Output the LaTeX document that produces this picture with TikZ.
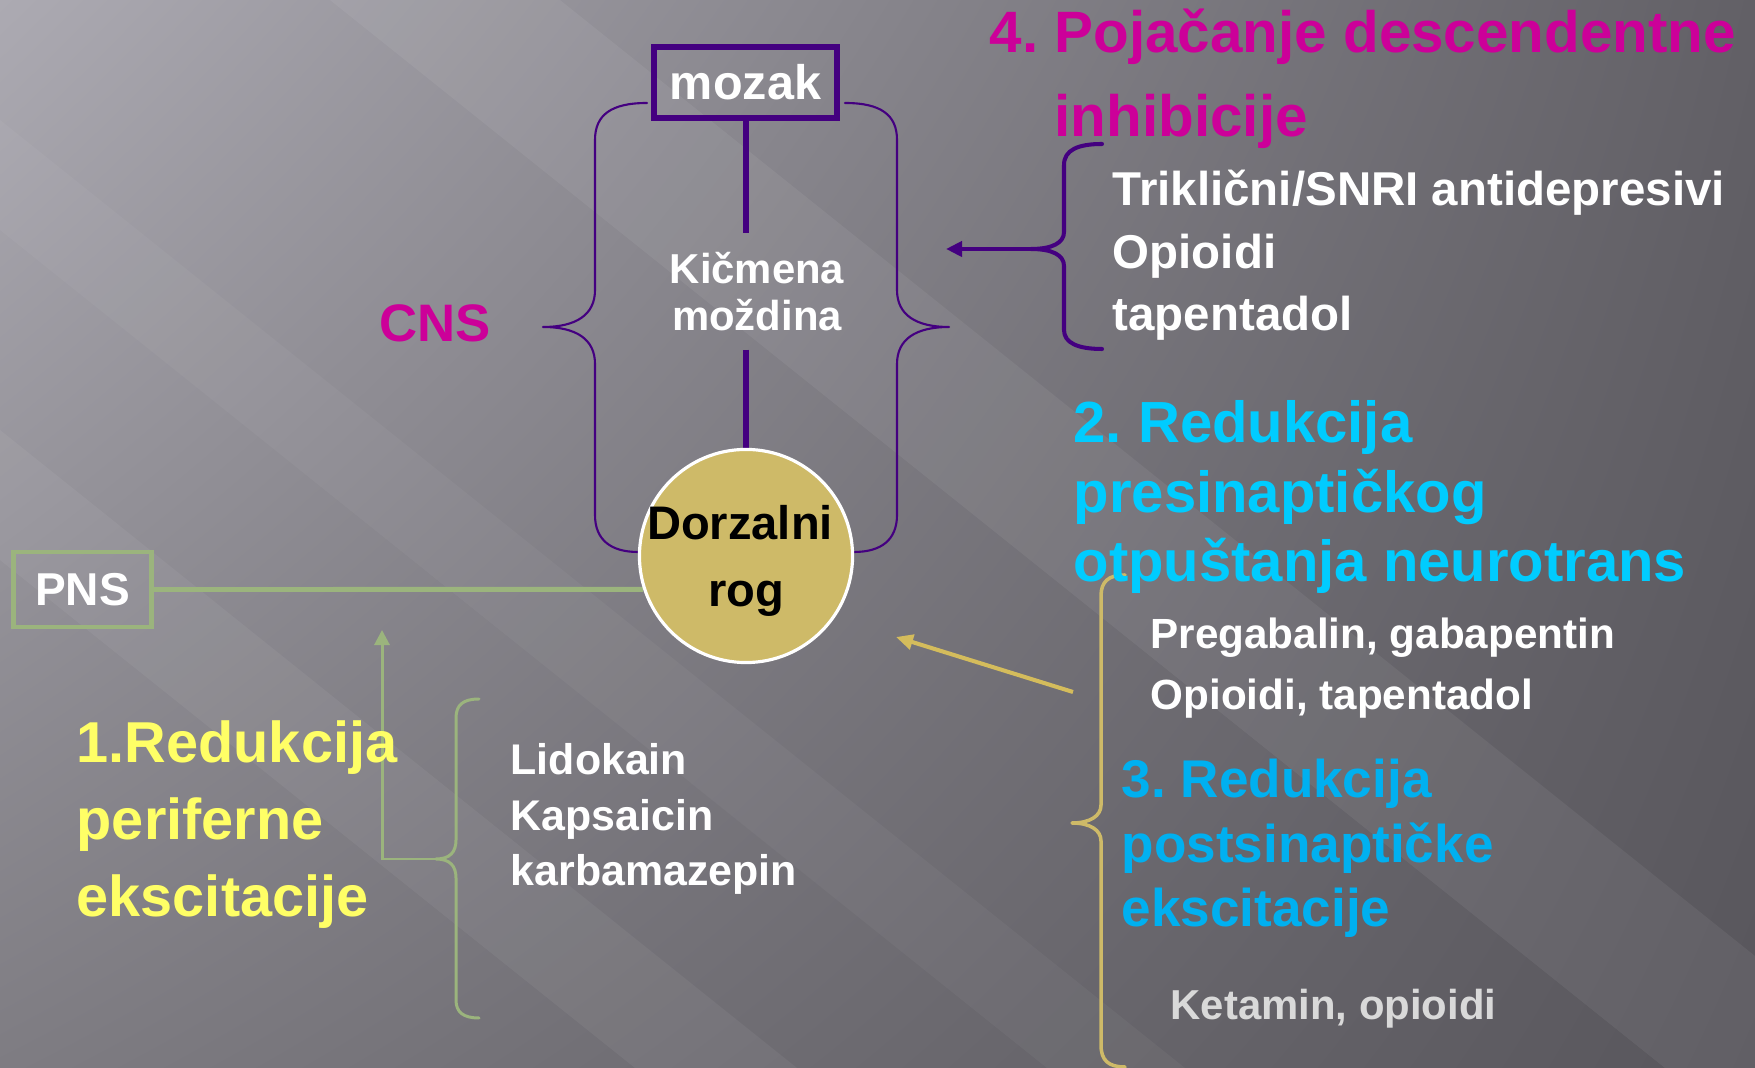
\documentclass[tikz,border=0pt]{standalone}
\usepackage{fontspec}
\setmainfont{Liberation Sans}
\usetikzlibrary{positioning, calc, arrows.meta, shadings}
\frenchspacing

\definecolor{cnspurple}{RGB}{68,0,128}
\definecolor{pnsgreen}{RGB}{155,180,125}
\definecolor{hornfill}{RGB}{206,186,104}
\definecolor{arrowtan}{RGB}{212,188,92}
\definecolor{headmagenta}{RGB}{204,0,153}
\definecolor{headcyan}{RGB}{0,204,255}
\definecolor{headblue}{RGB}{0,176,240}
\definecolor{headyellow}{RGB}{255,255,102}
\definecolor{druggray}{RGB}{217,217,217}
\definecolor{bgul}{RGB}{172,170,178}
\definecolor{bgur}{RGB}{98,96,102}
\definecolor{bgll}{RGB}{126,124,130}
\definecolor{bglr}{RGB}{88,86,92}

\newcommand{\slidefont}[2]{\fontsize{#1}{#2}\selectfont\bfseries}

\pgfdeclarelayer{background}
\pgfdeclarelayer{connectors}
\pgfsetlayers{background,connectors,main}

\tikzstyle{Curly} = [line cap=round, line join=round]

\begin{document}
\begin{tikzpicture}[
x=0.01cm, y=-0.01cm,
textlabel/.style={
    inner sep=0pt,
    text=white,
    align=left,
    anchor=base west
    },
framebox/.style={
    rectangle,
    draw,
    inner sep=0pt,
    text=white
    },
cord/.style={line width=1.7pt, cnspurple},
greenarrow/.style={line width=0.85pt, pnsgreen, -{Triangle[length=0.15cm, width=0.15cm]}},
tanarrow/.style={line width=1.15pt, arrowtan, -{Triangle[length=0.17cm, width=0.15cm]}},
purplearrow/.style={line width=1.15pt, cnspurple, -{Triangle[length=0.16cm, width=0.15cm]}}
]

\useasboundingbox (0,0) rectangle (1755,1068);

% centre: mozak, spinal cord, dorsal horn
\node[framebox, draw=cnspurple, line width=1.7pt, minimum width=1.83cm, minimum height=0.71cm, font=\slidefont{13.8}{16}] (mozak) at (745.5,82.5) {mozak};
\node[align=center, text=white, inner xsep=0pt, inner ysep=0.18cm, font=\slidefont{11.9}{13.4}] (spine) at (757,291.5) {Kičmena\\moždina};
\node[circle, draw=white, line width=0.9pt, fill=hornfill, minimum size=2.13cm, inner sep=-6pt, align=center, text depth=0pt, font=\slidefont{13.4}{19.1}] (dorsal) at (746,556) {Dorzalni\hspace*{0.12cm}\\rog};
\node[framebox, draw=pnsgreen, line width=1.4pt, minimum width=1.37cm, minimum height=0.75cm, font=\slidefont{13.1}{15}] (pns) at (82.5,589.5) {PNS};

% labels (base = last line)
\node[textlabel, text=headmagenta, font=\slidefont{15}{18}] (cns) at (379,342) {CNS};
\node[textlabel, text=headmagenta, font=\slidefont{16.6}{23.9}] (inhhead) at (989,137) {4. Pojačanje descendentne\\\hspace*{0.65cm}inhibicije};
\node[textlabel, font=\slidefont{13.5}{17.9}] (inhdrugs) at (1112,331) {Triklični/SNRI antidepresivi\\Opioidi\\tapentadol};
\node[textlabel, text=headcyan, font=\slidefont{16.5}{19.9}] (prehead) at (1073,582) {2. Redukcija\\presinaptičkog\\otpuštanja neurotrans};
\node[textlabel, font=\slidefont{12}{17.4}] (predrugs) at (1150,710) {Pregabalin, gabapentin\\Opioidi, tapentadol};
\node[textlabel, text=headblue, font=\slidefont{15.1}{18.35}] (posthead) at (1121,927) {3. Redukcija\\postsinaptičke\\ekscitacije};
\node[textlabel, text=druggray, font=\slidefont{11.9}{14}] (postdrugs) at (1170,1020) {Ketamin, opioidi};
\node[textlabel, text=headyellow, font=\slidefont{16.4}{21.9}] (perifhead) at (76,917) {1.Redukcija\\periferne\\ekscitacije};
\node[textlabel, font=\slidefont{12.2}{15.9}] (perifdrugs) at (510,886) {Lidokain\\Kapsaicin\\karbamazepin};

\coordinate (periftip) at (436,859);
\coordinate (pnsin) at (382,630);
\coordinate (inhtip) at (1031,249);
\coordinate (inhend) at (946,249);
\coordinate (presyn) at (1073,692);
\coordinate (presynend) at (896,637);

\begin{pgfonlayer}{connectors}
\draw[cord] (mozak.south) -- (mozak.south |- spine.north);
\draw[cord] (dorsal.north |- spine.south) -- (dorsal.north);
\draw[pnsgreen, line width=1.4pt] (pns.east) -- (dorsal.198);

% CNS braces
\begin{scope}[shift={(746,0)}]
\foreach \side in {1,-1}{
    \draw[Curly, cnspurple, line width=0.6pt, xscale=\side]
        (-99,103) .. controls (-135,103) and (-151,115) .. (-151,140)
        -- (-151,290) .. controls (-151,315) and (-170,327) .. (-203,327)
        .. controls (-170,327) and (-151,339) .. (-151,364)
        -- (-151,515) .. controls (-151,540) and (-135,552) .. (-108,552);
}
\end{scope}

% descending inhibition
\draw[Curly, cnspurple, line width=1.15pt]
    (1102,144) .. controls (1078,144) and (1064,150) .. (1064,165)
    -- (1064,232) .. controls (1064,243) and (1052,249) .. (inhtip)
    .. controls (1052,249) and (1064,255) .. (1064,266)
    -- (1064,330) .. controls (1064,343) and (1078,349) .. (1102,349);
\draw[purplearrow] (inhtip) -- (inhend);

% pre- and postsynaptic
\draw[Curly, hornfill, line width=1pt]
    (1125,575) .. controls (1108,575) and (1101,582) .. (1101,596)
    -- (1101,805) .. controls (1101,816) and (1090,823) .. (1072,823)
    .. controls (1090,823) and (1101,830) .. (1101,841)
    -- (1101,1045) .. controls (1101,1060) and (1108,1067) .. (1125,1067);
\draw[tanarrow] (presyn) -- (presynend);

% peripheral
\draw[Curly, pnsgreen, line width=0.85pt]
    (479,699) .. controls (463,699) and (456,705) .. (456,718)
    -- (456,840) .. controls (456,852) and (450,859) .. (periftip)
    .. controls (450,859) and (456,866) .. (456,878)
    -- (456,1000) .. controls (456,1012) and (463,1018) .. (479,1018);
\draw[greenarrow] (periftip) -| (pnsin);
\end{pgfonlayer}

\begin{pgfonlayer}{background}
\shade[upper left=bgul, upper right=bgur, lower left=bgll, lower right=bglr] (0,0) rectangle (1755,1068);
\fill[white, opacity=0.06] (330,0) -- (560,0) -- (1755,956) -- (1755,1068) -- (1665,1068) -- cycle;
\fill[white, opacity=0.05] (0,430) -- (0,560) -- (635,1068) -- (797,1068) -- cycle;
\fill[white, opacity=0.04] (0,120) -- (0,230) -- (1047,1068) -- (1185,1068) -- cycle;
\end{pgfonlayer}

\end{tikzpicture}
\end{document}
